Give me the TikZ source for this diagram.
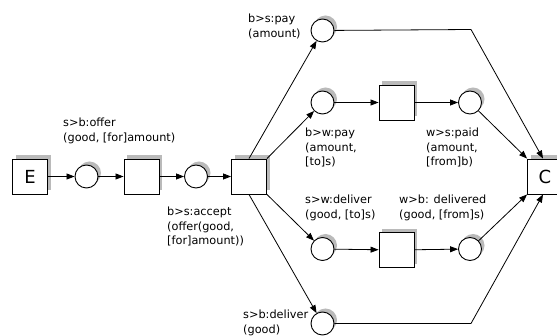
\documentclass[tikz,border=0pt]{standalone}
\usepackage{fontspec}
\setmainfont{DejaVu Sans}
\usetikzlibrary{arrows.meta,shadows,calc}
\begin{document}
\begin{tikzpicture}[x=1pt,y=-1pt,
  every node/.style={font=\fontsize{11.3}{14.5}\selectfont},
  sh/.style={drop shadow={shadow xshift=3pt,shadow yshift=3.5pt,fill=black!27,opacity=1}},
  trans/.style={draw,line width=0.9pt,fill=white,minimum size=35pt,inner sep=0pt,sh},
  place/.style={circle,draw,line width=0.9pt,fill=white,minimum size=23pt,inner sep=0pt,sh},
  big/.style={font=\fontsize{18}{20}\selectfont},
  lab/.style={anchor=north west,align=left,inner sep=0pt},
  arr/.style={line width=0.8pt,-{Triangle[length=8pt,width=6pt]}}]
\useasboundingbox (0,0) rectangle (557,336);
\node[trans,big] (E) at (30,176.5) {E};
\node[place] (p1) at (86.5,176.5) {};
\node[trans] (t1) at (141.5,176.5) {};
\node[place] (p2) at (196,176.5) {};
\node[trans] (t2) at (249,176.5) {};
\node[place] (pa) at (322.5,30.5) {};
\node[place] (pb) at (322.5,102.5) {};
\node[trans] (t3) at (396.5,102.5) {};
\node[place] (pc) at (470,102.5) {};
\node[place] (pd) at (322.5,249) {};
\node[trans] (t4) at (396.5,250) {};
\node[place] (pe) at (470,249) {};
\node[place] (pf) at (322.5,323.5) {};
\node[trans,big] (C) at (545,176.5) {C};
\coordinate (k1) at (471,29.5);
\coordinate (k2) at (471,323.5);

\draw[arr] (E) -- (p1);
\draw[arr] (p1) -- (t1);
\draw[arr] (t1) -- (p2);
\draw[arr] (p2) -- (t2);
\draw[arr] (t2.north) -- (pa);
\draw[arr] (t2.north east) -- (pb);
\draw[arr] (t2.south east) -- (pd);
\draw[arr] (t2.south) -- (pf);
\draw[arr] (pb) -- (t3);
\draw[arr] (t3) -- (pc);
\draw[arr] (pd) -- (t4);
\draw[arr] (t4) -- (pe);
\draw[arr] (pa) -- (k1) -- ($(C.north)+(-2,0)$);
\draw[arr] (pc) -- (C.north west);
\draw[arr] (pe) -- (C.south west);
\draw[arr] (pf) -- (k2) -- ($(C.south)+(-2,0)$);

\node[lab] (l1) at (63,118) {s>b:offer\\(good, {[}for{]}amount)};
\node[lab] (l2) at (167,207) {b>s:accept\\(offer(good,\\{[}for{]}amount))};
\node[lab] (l3) at (248,14) {b>s:pay\\(amount)};
\node[lab] (l4) at (305,128) {b>w:pay\\(amount,\\{[}to{]}s)};
\node[lab] (l5) at (426,128) {w>s:paid\\(amount,\\{[}from{]}b)};
\node[lab] (l6) at (305,195) {s>w:deliver\\(good, {[}to{]}s)};
\node[lab] (l7) at (399,195) {w>b: delivered\\(good, {[}from{]}s)};
\node[lab] (l8) at (243,310) {s>b:deliver\\(good)};
\end{tikzpicture}
\end{document}
